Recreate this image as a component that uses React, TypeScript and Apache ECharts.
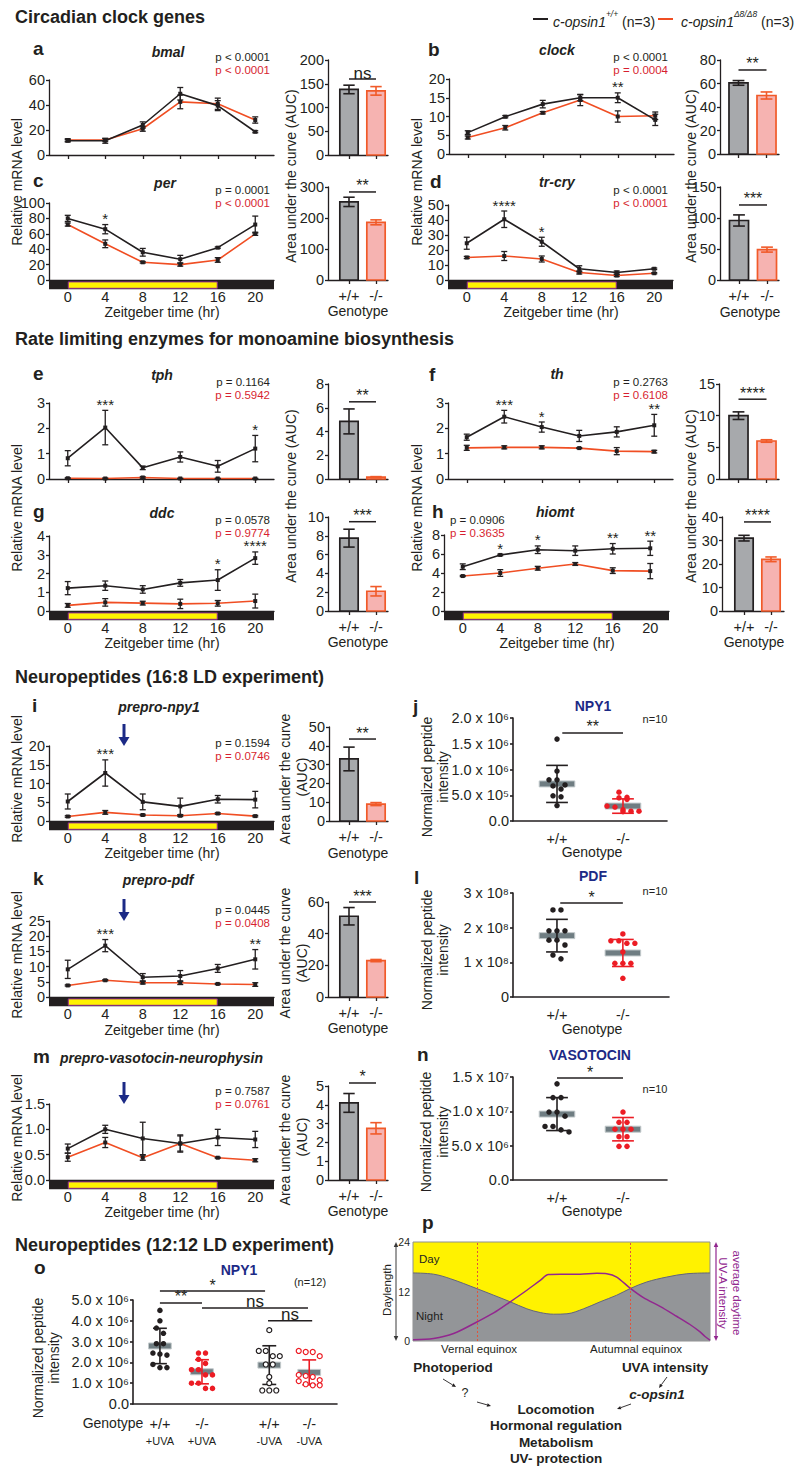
import React, { useEffect, useRef } from "react";
import * as echarts from "echarts";

const FONT = "'Liberation Sans', Arial, Helvetica, sans-serif";
const INK = "#231f20";
const ORANGE = "#f04e23";
const PRED = "#d71f30";
const NAVY = "#1c2a86";
const BAR_GRAY = "#a7a9ac";
const BAR_PINK = "#f6b3b1";
const EDGE_PINK = "#f15a29";
const DOT_RED = "#ec1c24";
const MEAN_GRAY = "#6f7d82";
const DAY_YELLOW = "#fff200";
const DAY_EDGE = "#92278f";

// ---------- shared categories ----------
const ZT = [0, 4, 8, 12, 16, 20];
const ZT_RANGE = [-2, 22];
const LIGHT_PHASE = [0, 16];
const GENOTYPES = ["+/+", "-/-"];

// ---------- a: bmal ----------
const bmalWT = [11.4, 11.4, 24, 49, 39.5, 18.6];
const bmalWTerr = [1, 2, 2.5, 5, 4, 0.8];
const bmalKO = [12, 12, 21, 42.5, 41, 28];
const bmalKOerr = [1, 1, 2, 5.5, 4.5, 2.5];
const bmalAUC = [138, 135];
const bmalAUCerr = [9, 9];

// ---------- b: clock ----------
const clockWT = [5.7, 9.95, 13.3, 15, 15, 9.1];
const clockWTerr = [0.5, 0.3, 1, 0.8, 1.3, 1.5];
const clockKO = [4.4, 7.0, 11.0, 14.4, 10.0, 10.2];
const clockKOerr = [0.4, 0.6, 0.3, 1.5, 1.5, 1.0];
const clockAUC = [60.5, 49.8];
const clockAUCerr = [2, 3];
const clockStars: [number, string][] = [[16, "**"]];

// ---------- c: per ----------
const perWT = [80, 66, 36, 27, 42, 72];
const perWTerr = [4, 6, 5, 5, 1, 11];
const perKO = [72, 47, 23, 20, 26, 60];
const perKOerr = [2, 5, 1, 2, 3, 2];
const perAUC = [252, 186];
const perAUCerr = [15, 8];
const perStars: [number, string][] = [[4, "*"]];

// ---------- d: tr-cry ----------
const cryWT = [24.5, 40.5, 25.5, 7.5, 5, 7.5];
const cryWTerr = [4, 5.5, 3, 2, 1, 0.5];
const cryKO = [15, 16, 14, 5, 3, 4.5];
const cryKOerr = [0.7, 3, 2, 1, 0.7, 0.4];
const cryAUC = [96, 49];
const cryAUCerr = [9, 4];
const cryStars: [number, string][] = [[4, "****"], [8, "*"]];

// ---------- e: tph ----------
const tphWT = [0.82, 2.03, 0.44, 0.87, 0.5, 1.2];
const tphWTerr = [0.3, 0.68, 0.07, 0.2, 0.23, 0.52];
const tphKO = [0.03, 0.02, 0.06, 0.02, 0.02, 0.02];
const tphKOerr = [0.02, 0.02, 0.03, 0.01, 0.01, 0.01];
const tphAUC = [4.85, 0.15];
const tphAUCerr = [1.05, 0.05];
const tphStars: [number, string][] = [[4, "***"], [20, "*"]];

// ---------- f: th ----------
const thWT = [1.65, 2.46, 2.05, 1.7, 1.86, 2.12];
const thWTerr = [0.12, 0.25, 0.2, 0.22, 0.2, 0.43];
const thKO = [1.23, 1.25, 1.25, 1.22, 1.1, 1.08];
const thKOerr = [0.1, 0.06, 0.06, 0.02, 0.14, 0.05];
const thAUC = [10, 6];
const thAUCerr = [0.6, 0.2];
const thStars: [number, string][] = [[4, "***"], [8, "*"], [20, "**"]];

// ---------- g: ddc ----------
const ddcWT = [1.22, 1.35, 1.15, 1.5, 1.65, 2.82];
const ddcWTerr = [0.35, 0.25, 0.2, 0.18, 0.55, 0.33];
const ddcKO = [0.3, 0.46, 0.42, 0.38, 0.41, 0.53];
const ddcKOerr = [0.1, 0.2, 0.1, 0.25, 0.15, 0.37];
const ddcAUC = [7.75, 2.1];
const ddcAUCerr = [0.95, 0.5];
const ddcStars: [number, string][] = [[16, "*"], [20, "****"]];

// ---------- h: hiomt ----------
const hiomtWT = [4.66, 5.9, 6.45, 6.35, 6.55, 6.6];
const hiomtWTerr = [0.3, 0.08, 0.4, 0.5, 0.55, 0.75];
const hiomtKO = [3.68, 4.0, 4.5, 4.95, 4.25, 4.2];
const hiomtKOerr = [0.06, 0.35, 0.2, 0.15, 0.3, 0.8];
const hiomtAUC = [31, 22];
const hiomtAUCerr = [1.2, 1];
const hiomtStars: [number, string][] = [[4, "*"], [8, "*"], [16, "**"], [20, "**"]];

// ---------- i: prepro-npy1 ----------
const npyWT = [5.2, 12.8, 5.1, 3.9, 5.8, 5.7];
const npyWTerr = [2, 3.5, 2.1, 2.2, 1, 2.2];
const npyKO = [1.2, 2.3, 1.6, 1.4, 2.0, 1.3];
const npyKOerr = [0.2, 0.5, 0.2, 0.2, 0.2, 0.2];
const npyAUC = [33, 9];
const npyAUCerr = [6.3, 0.8];
const npyStars: [number, string][] = [[4, "***"]];

// ---------- k: prepro-pdf ----------
const pdfWT = [9.1, 16.9, 6.5, 6.9, 9.4, 12.4];
const pdfWTerr = [3, 2, 1.2, 1.8, 1.3, 3.2];
const pdfKO = [3.8, 5.5, 4.7, 4.7, 4.3, 4.1];
const pdfKOerr = [0.2, 0.2, 0.4, 0.6, 0.2, 0.6];
const pdfAUC = [51, 23];
const pdfAUCerr = [5.5, 0.7];
const pdfStars: [number, string][] = [[4, "***"], [20, "**"]];

// ---------- m: prepro-vasotocin-neurophysin ----------
const avtWT = [0.62, 1.0, 0.82, 0.72, 0.84, 0.8];
const avtWTerr = [0.09, 0.08, 0.32, 0.17, 0.16, 0.16];
const avtKO = [0.45, 0.74, 0.44, 0.72, 0.44, 0.39];
const avtKOerr = [0.08, 0.1, 0.05, 0.15, 0.01, 0.03];
const avtAUC = [4.1, 2.75];
const avtAUCerr = [0.5, 0.3];
const ARROW_ZT = 6;

// ---------- j: NPY1 peptide (x10^6) ----------
const npyPepWT = [1.59, 0.97, 0.8, 0.8, 0.7, 0.68, 0.62, 0.49, 0.47, 0.3];
const npyPepKO = [0.56, 0.46, 0.45, 0.42, 0.29, 0.27, 0.22, 0.19, 0.18, 0.19];
const npyPepMean = [0.72, 0.29];
const npyPepSD = [0.36, 0.14];
const npyPepTicks = ["0.0", "5.0 x 10⁵", "1.0 x 10⁶", "1.5 x 10⁶", "2.0 x 10⁶"];

// ---------- l: PDF peptide (x10^8) ----------
const pdfPepWT = [2.51, 2.51, 1.91, 1.91, 1.91, 1.64, 1.64, 1.5, 1.21, 1.1];
const pdfPepKO = [1.82, 1.62, 1.62, 1.55, 1.55, 1.3, 0.97, 0.97, 0.97, 0.54];
const pdfPepMean = [1.77, 1.27];
const pdfPepSD = [0.47, 0.39];
const pdfPepTicks = ["0", "1 x 10⁸", "2 x 10⁸", "3 x 10⁸"];

// ---------- n: VASOTOCIN peptide (x10^7) ----------
const avtPepWT = [1.4, 1.2, 1.2, 0.99, 0.99, 0.93, 0.78, 0.78, 0.73, 0.7];
const avtPepKO = [0.99, 0.84, 0.84, 0.74, 0.74, 0.74, 0.63, 0.63, 0.49, 0.49];
const avtPepMean = [0.96, 0.74];
const avtPepSD = [0.24, 0.17];
const avtPepTicks = ["0.0", "5.0 x 10⁶", "1.0 x 10⁷", "1.5 x 10⁷"];

// ---------- o: NPY1 12:12 LD (x10^6) ----------
const oWTuva = [4.5, 4.0, 3.65, 3.4, 2.9, 2.9, 2.45, 2.4, 2.35, 1.9, 1.75, 1.75];
const oKOuva = [2.45, 2.45, 2.15, 1.95, 1.65, 1.65, 1.4, 1.4, 1.0, 1.0, 0.75, 0.75];
const oWTnouva = [3.55, 2.55, 2.55, 2.3, 2.3, 1.9, 1.9, 1.3, 1.0, 0.65, 0.65, 0.65];
const oKOnouva = [2.55, 2.5, 2.5, 2.3, 1.4, 1.35, 1.3, 1.15, 1.1, 0.95, 0.9, 0.9];
const oMean = [2.79, 1.55, 1.87, 1.52];
const oSD = [0.85, 0.58, 0.93, 0.6];
const oTicks = ["0.0", "1.0 x 10⁶", "2.0 x 10⁶", "3.0 x 10⁶", "4.0 x 10⁶", "5.0 x 10⁶"];
const oGenotype = ["+/+", "-/-", "+/+", "-/-"];
const oUVA = ["+UVA", "+UVA", "-UVA", "-UVA"];

// ---------- p: seasonal schematic ----------
const nightMonths = [0, 0.83, 1.51, 2.58, 3.26, 3.93, 4.6, 5.14, 5.68, 6.22, 6.89, 7.56, 8.23, 8.77, 9.44, 10.25, 11.06, 12];
const nightHours = [16.5, 16.2, 15.1, 12.7, 11.1, 9.5, 7.8, 6.9, 6.5, 6.6, 7.8, 9.5, 11.1, 12.7, 14.3, 15.5, 16.3, 16.5];
const uvaMonths = [0, 0.83, 1.64, 2.58, 3.26, 3.93, 4.6, 5.14, 5.47, 5.95, 6.75, 7.43, 7.83, 8.23, 8.77, 9.31, 9.98, 10.65, 11.19, 11.6, 11.8, 12];
const uvaLevel = [0.3, 0.6, 1.8, 4.6, 6.8, 9.5, 12.3, 14.7, 16.1, 16.2, 16.2, 16.4, 16.3, 15.5, 12.8, 10.5, 8.4, 6.0, 4.0, 2.2, 1.1, 0.2];
const equinoxMonths = [2.58, 8.77];

// =====================================================================

function swarmOffsets(vals: number[], pxPerY: number, pxPerX: number, diam: number, step: number) {
  const idx = vals.map((_, i) => i).sort((a, b) => vals[b] - vals[a]);
  const out = new Array(vals.length).fill(0);
  let i = 0;
  while (i < idx.length) {
    let j = i;
    while (j + 1 < idx.length && (vals[idx[i]] - vals[idx[j + 1]]) * pxPerY < diam) j++;
    const n = j - i + 1;
    for (let k = 0; k < n; k++) out[idx[i + k]] = ((k - (n - 1) / 2) * step) / pxPerX;
    i = j + 1;
  }
  return out;
}

function buildOption() {
  const grid: any[] = [];
  const xAxis: any[] = [];
  const yAxis: any[] = [];
  const series: any[] = [];
  const graphic: any[] = [];

  const axisLine = { show: true, onZero: false, lineStyle: { color: INK, width: 1.3 } };
  const tickStyle = { color: INK, width: 1.3 };

  const T = (text: string, x: number, y: number, o: any = {}) =>
    graphic.push({
      type: "text", x, y, rotation: o.rot || 0, silent: true, z: 50,
      style: {
        text, fontFamily: FONT, fontSize: o.fs || 14, fontWeight: o.fw || "normal",
        fontStyle: o.it ? "italic" : "normal", fill: o.c || INK, align: o.al || "center",
        verticalAlign: "middle", rich: o.rich,
      },
    });

  const arrow = (x1: number, y1: number, x2: number, y2: number, color: string, lw: number, head: number) => {
    const ang = Math.atan2(y2 - y1, x2 - x1);
    const hx = x2 - head * Math.cos(ang), hy = y2 - head * Math.sin(ang);
    const px = -Math.sin(ang) * head * 0.45, py = Math.cos(ang) * head * 0.45;
    graphic.push({ type: "line", silent: true, shape: { x1, y1, x2: hx, y2: hy }, style: { stroke: color, lineWidth: lw } });
    graphic.push({ type: "polygon", silent: true, shape: { points: [[x2, y2], [hx + px, hy + py], [hx - px, hy - py]] }, style: { fill: color } });
  };

  const addGrid = (left: number, top: number, width: number, height: number, x: any, y: any, extra: any = {}) => {
    const g = grid.length;
    grid.push({ left, top, width, height, containLabel: false, outerBoundsMode: "none", ...extra });
    xAxis.push({ gridIndex: g, splitLine: { show: false }, ...x });
    yAxis.push({ gridIndex: g, splitLine: { show: false }, ...y });
    return g;
  };

  const yLabel = (fmt: (v: number) => string) => ({ margin: 4, fontSize: 14.5, color: INK, fontFamily: FONT, formatter: fmt });

  // ---------------- line panels ----------------
  const linePanels: any[] = [
    { left: 49, top: 80, bottom: 155, ymax: 60, yint: 20, wt: bmalWT, wtE: bmalWTerr, ko: bmalKO, koE: bmalKOerr, stars: [], bar: false },
    { left: 449, top: 79, bottom: 154, ymax: 20, yint: 5, wt: clockWT, wtE: clockWTerr, ko: clockKO, koE: clockKOerr, stars: clockStars, bar: false },
    { left: 49, top: 203, bottom: 280, ymax: 100, yint: 20, wt: perWT, wtE: perWTerr, ko: perKO, koE: perKOerr, stars: perStars, bar: true },
    { left: 448, top: 205, bottom: 280, ymax: 50, yint: 10, wt: cryWT, wtE: cryWTerr, ko: cryKO, koE: cryKOerr, stars: cryStars, bar: true },
    { left: 49, top: 403, bottom: 479, ymax: 3, yint: 1, wt: tphWT, wtE: tphWTerr, ko: tphKO, koE: tphKOerr, stars: tphStars, bar: false },
    { left: 448, top: 403, bottom: 479, ymax: 3, yint: 1, wt: thWT, wtE: thWTerr, ko: thKO, koE: thKOerr, stars: thStars, bar: false },
    { left: 49, top: 536, bottom: 611, ymax: 4, yint: 1, wt: ddcWT, wtE: ddcWTerr, ko: ddcKO, koE: ddcKOerr, stars: ddcStars, bar: true },
    { left: 444, top: 535, bottom: 611, ymax: 8, yint: 2, wt: hiomtWT, wtE: hiomtWTerr, ko: hiomtKO, koE: hiomtKOerr, stars: hiomtStars, bar: true },
    { left: 49, top: 746, bottom: 821, ymax: 20, yint: 5, wt: npyWT, wtE: npyWTerr, ko: npyKO, koE: npyKOerr, stars: npyStars, bar: true, arrow: true },
    { left: 49, top: 921, bottom: 997, ymax: 25, yint: 5, wt: pdfWT, wtE: pdfWTerr, ko: pdfKO, koE: pdfKOerr, stars: pdfStars, bar: true, arrow: true },
    { left: 49, top: 1104, bottom: 1180, ymax: 1.5, yint: 0.5, dec: 1, wt: avtWT, wtE: avtWTerr, ko: avtKO, koE: avtKOerr, stars: [], bar: true, arrow: true },
  ];

  linePanels.forEach((c) => {
    const g = addGrid(c.left, c.top, 225, c.bottom - c.top,
      {
        type: "value", min: ZT_RANGE[0], max: ZT_RANGE[1], axisLine,
        axisTick: { show: !c.bar, customValues: ZT, length: 4, lineStyle: tickStyle },
        axisLabel: { show: c.bar, customValues: ZT, margin: 9, fontSize: 14.5, color: INK, fontFamily: FONT },
      },
      {
        type: "value", min: 0, max: c.ymax, interval: c.yint, axisLine,
        axisTick: { show: true, length: 3, lineStyle: tickStyle },
        axisLabel: yLabel((v: number) => (c.dec ? v.toFixed(c.dec) : String(v))),
      });
    const base = { xAxisIndex: g, yAxisIndex: g, silent: true, animation: false };
    if (c.bar) {
      // dark phase covers the whole axis
      series.push({
        ...base, type: "custom", clip: false, z: 1, data: [[ZT_RANGE[0], ZT_RANGE[1]]],
        renderItem: (_p: any, api: any) => {
          const a = api.coord([api.value(0), 0]);
          const b = api.coord([api.value(1), 0]);
          return { type: "rect", shape: { x: a[0], y: a[1] + 0.6, width: b[0] - a[0], height: 8.6 }, style: { fill: INK } };
        },
      });
      // light phase (yellow with purple rim)
      series.push({
        ...base, type: "custom", clip: false, z: 2, data: [[LIGHT_PHASE[0], LIGHT_PHASE[1]]],
        renderItem: (_p: any, api: any) => {
          const a = api.coord([api.value(0), 0]);
          const b = api.coord([api.value(1), 0]);
          return {
            type: "rect", z2: 10,
            shape: { x: a[0] + 0.5, y: a[1] + 1.9, width: b[0] - a[0] - 1, height: 6.4 },
            style: { fill: DAY_YELLOW, stroke: DAY_EDGE, lineWidth: 1 },
          };
        },
      });
    }
    const mkLine = (vals: number[], color: string, z: number) => ({
      ...base, type: "line", z, data: ZT.map((t, i) => [t, vals[i]]), symbol: "rect", symbolSize: 4,
      itemStyle: { color: INK }, lineStyle: { color, width: 1.6 },
    });
    series.push(mkLine(c.ko, ORANGE, 3));
    series.push(mkLine(c.wt, INK, 4));
    const errData = ZT.map((t, i) => [t, c.ko[i], c.koE[i]]).concat(ZT.map((t, i) => [t, c.wt[i], c.wtE[i]]));
    series.push({
      ...base, type: "custom", clip: false, z: 5, data: errData,
      renderItem: (_p: any, api: any) => {
        const x = api.value(0), m = api.value(1), e = api.value(2);
        const top = api.coord([x, m + e]);
        const bot = api.coord([x, Math.max(0, m - e)]);
        const st = { stroke: INK, lineWidth: 1.3 };
        return {
          type: "group", children: [
            { type: "line", shape: { x1: top[0], y1: top[1], x2: top[0], y2: bot[1] }, style: st },
            { type: "line", shape: { x1: top[0] - 3, y1: top[1], x2: top[0] + 3, y2: top[1] }, style: st },
            { type: "line", shape: { x1: top[0] - 3, y1: bot[1], x2: top[0] + 3, y2: bot[1] }, style: st },
          ],
        };
      },
    });
    if (c.stars.length) {
      const starData = c.stars.map((s: [number, string]) => {
        const i = ZT.indexOf(s[0]);
        return [s[0], c.wt[i] + c.wtE[i]];
      });
      series.push({
        ...base, type: "custom", clip: false, z: 6, data: starData,
        renderItem: (p: any, api: any) => {
          const pt = api.coord([api.value(0), api.value(1)]);
          return { type: "text", x: pt[0], y: pt[1] - 6, style: { text: c.stars[p.dataIndex][1], align: "center", verticalAlign: "middle", fontSize: 15, fontFamily: FONT, fill: INK } };
        },
      });
    }
    if (c.arrow) {
      series.push({
        ...base, type: "custom", clip: false, z: 6, data: [[ARROW_ZT, c.ymax]],
        renderItem: (_p: any, api: any) => {
          const pt = api.coord([api.value(0), api.value(1)]);
          return {
            type: "group", children: [
              { type: "line", shape: { x1: pt[0], y1: pt[1] - 22, x2: pt[0], y2: pt[1] - 8 }, style: { stroke: NAVY, lineWidth: 3 } },
              { type: "polygon", shape: { points: [[pt[0] - 5.5, pt[1] - 9], [pt[0] + 5.5, pt[1] - 9], [pt[0], pt[1]]] }, style: { fill: NAVY } },
            ],
          };
        },
      });
    }
  });

  // ---------------- AUC bar panels ----------------
  const L = { axisX: 328, c0: 349, pitch: 27, right: 388 };
  const aucPanels: any[] = [
    { ...L, top: 60, bottom: 155, ymax: 200, yint: 50, vals: bmalAUC, errs: bmalAUCerr, sig: "ns", sigY: 160, labels: false },
    { axisX: 720, c0: 738.5, pitch: 28, right: 779, top: 60, bottom: 154, ymax: 80, yint: 20, vals: clockAUC, errs: clockAUCerr, sig: "**", sigY: 71.5, labels: false },
    { ...L, top: 187, bottom: 280, ymax: 300, yint: 100, vals: perAUC, errs: perAUCerr, sig: "**", sigY: 284, labels: true },
    { axisX: 720, c0: 739, pitch: 28, right: 779, top: 187, bottom: 280, ymax: 150, yint: 50, vals: cryAUC, errs: cryAUCerr, sig: "***", sigY: 121, labels: true },
    { ...L, top: 384, bottom: 479, ymax: 8, yint: 2, vals: tphAUC, errs: tphAUCerr, sig: "**", sigY: 6.5, labels: false },
    { axisX: 719, c0: 738.5, pitch: 28, right: 779, top: 384, bottom: 479, ymax: 15, yint: 5, vals: thAUC, errs: thAUCerr, sig: "****", sigY: 12.6, labels: false },
    { ...L, top: 517, bottom: 611, ymax: 10, yint: 2, vals: ddcAUC, errs: ddcAUCerr, sig: "***", sigY: 9.5, labels: true },
    { axisX: 722, c0: 744, pitch: 27, right: 784, top: 517, bottom: 611, ymax: 40, yint: 10, vals: hiomtAUC, errs: hiomtAUCerr, sig: "****", sigY: 37.9, labels: true },
    { ...L, axisX: 329, top: 727, bottom: 821, ymax: 50, yint: 10, vals: npyAUC, errs: npyAUCerr, sig: "**", sigY: 43.6, labels: true },
    { ...L, top: 902, bottom: 997, ymax: 60, yint: 20, vals: pdfAUC, errs: pdfAUCerr, sig: "***", sigY: 60, labels: true },
    { ...L, top: 1086, bottom: 1180, ymax: 5, yint: 1, vals: avtAUC, errs: avtAUCerr, sig: "*", sigY: 5.16, labels: true },
  ];

  const sigText = (x: number, y: number, lbl: string) => ({
    type: "text", x, y: y - 6,
    style: { text: lbl, align: "center", verticalAlign: "middle", fontSize: lbl === "ns" ? 17 : 16, fontFamily: FONT, fill: INK },
  });

  aucPanels.forEach((c) => {
    const xmin = -(c.c0 - c.axisX) / c.pitch;
    const xmax = 1 + (c.right - c.c0 - c.pitch) / c.pitch;
    const g = addGrid(c.axisX, c.top, c.right - c.axisX, c.bottom - c.top,
      {
        type: "value", min: xmin, max: xmax, axisLine,
        axisTick: { show: true, customValues: [0, 1], length: 4, lineStyle: tickStyle },
        axisLabel: { show: c.labels, customValues: [0, 1], margin: 8, fontSize: 14.5, color: INK, fontFamily: FONT, formatter: (v: number) => GENOTYPES[Math.round(v)] },
      },
      {
        type: "value", min: 0, max: c.ymax, interval: c.yint, axisLine,
        axisTick: { show: true, length: 3, lineStyle: tickStyle },
        axisLabel: yLabel((v: number) => String(v)),
      });
    const base = { xAxisIndex: g, yAxisIndex: g, silent: true, animation: false, clip: false, type: "custom" };
    series.push({
      ...base, z: 3, data: c.vals.map((v: number, i: number) => [i, v, c.errs[i]]),
      renderItem: (p: any, api: any) => {
        const x = api.value(0), v = api.value(1), e = api.value(2);
        const top = api.coord([x, v]);
        const b0 = api.coord([x, 0]);
        const hw = api.size([1, 0])[0] * 0.34;
        const et = api.coord([x, v + e]);
        const eb = api.coord([x, Math.max(0, v - e)]);
        const wt = p.dataIndex === 0;
        const stroke = wt ? INK : EDGE_PINK;
        const cap = hw * 0.62;
        const st = { stroke, lineWidth: 1.6 };
        return {
          type: "group", children: [
            { type: "rect", shape: { x: top[0] - hw, y: top[1], width: 2 * hw, height: Math.max(1, b0[1] - top[1]) }, style: { fill: wt ? BAR_GRAY : BAR_PINK, stroke, lineWidth: 1.7 } },
            { type: "line", shape: { x1: top[0], y1: et[1], x2: top[0], y2: eb[1] }, style: st },
            { type: "line", shape: { x1: top[0] - cap, y1: et[1], x2: top[0] + cap, y2: et[1] }, style: st },
            { type: "line", shape: { x1: top[0] - cap, y1: eb[1], x2: top[0] + cap, y2: eb[1] }, style: st },
          ],
        };
      },
    });
    series.push({
      ...base, z: 4, data: [[0, 1, c.sigY]],
      renderItem: (_p: any, api: any) => {
        const a = api.coord([api.value(0), api.value(2)]);
        const b = api.coord([api.value(1), api.value(2)]);
        return {
          type: "group", children: [
            { type: "line", shape: { x1: a[0], y1: a[1], x2: b[0], y2: b[1] }, style: { stroke: INK, lineWidth: 1.5 } },
            sigText((a[0] + b[0]) / 2, a[1], c.sig),
          ],
        };
      },
    });
  });

  // ---------------- dot plots ----------------
  const dotPanels: any[] = [
    {
      left: 513, right: 667, top: 718, bottom: 821, xmin: -0.667, xmax: 1.667, ymax: 2, yint: 0.5, ticks: npyPepTicks, cats: GENOTYPES,
      groups: [
        { pos: 0, vals: npyPepWT, mean: npyPepMean[0], sd: npyPepSD[0], color: INK, open: false },
        { pos: 1, vals: npyPepKO, mean: npyPepMean[1], sd: npyPepSD[1], color: DOT_RED, open: false },
      ],
      brackets: [[0.08, 1, 1.71, "**"]], step: 8,
    },
    {
      left: 513, right: 669, top: 893, bottom: 997, xmin: -0.667, xmax: 1.7, ymax: 3, yint: 1, ticks: pdfPepTicks, cats: GENOTYPES,
      groups: [
        { pos: 0, vals: pdfPepWT, mean: pdfPepMean[0], sd: pdfPepSD[0], color: INK, open: false },
        { pos: 1, vals: pdfPepKO, mean: pdfPepMean[1], sd: pdfPepSD[1], color: DOT_RED, open: false },
      ],
      brackets: [[0.05, 1, 2.71, "*"]], step: 8,
    },
    {
      left: 513, right: 667, top: 1077, bottom: 1180, xmin: -0.667, xmax: 1.667, ymax: 1.5, yint: 0.5, ticks: avtPepTicks, cats: GENOTYPES,
      groups: [
        { pos: 0, vals: avtPepWT, mean: avtPepMean[0], sd: avtPepSD[0], color: INK, open: false },
        { pos: 1, vals: avtPepKO, mean: avtPepMean[1], sd: avtPepSD[1], color: DOT_RED, open: false },
      ],
      brackets: [[0, 1, 1.485, "*"]], step: 8,
    },
    {
      left: 133, right: 337, top: 1300, bottom: 1404, xmin: -0.64, xmax: 4.21, ymax: 5, yint: 1, ticks: oTicks, cats: oGenotype, sub: oUVA,
      groups: [
        { pos: 0, vals: oWTuva, mean: oMean[0], sd: oSD[0], color: INK, open: false },
        { pos: 1, vals: oKOuva, mean: oMean[1], sd: oSD[1], color: DOT_RED, open: false },
        { pos: 2.6, vals: oWTnouva, mean: oMean[2], sd: oSD[2], color: INK, open: true },
        { pos: 3.55, vals: oKOnouva, mean: oMean[3], sd: oSD[3], color: DOT_RED, open: true },
      ],
      brackets: [[0, 2.5, 5.43, "*"], [0, 1, 4.86, "**"], [1, 3.52, 4.62, "ns"], [2.57, 3.62, 4.0, "ns"]], step: 7,
    },
  ];

  dotPanels.forEach((c) => {
    const positions = c.groups.map((gr: any) => gr.pos);
    const catIndex = (v: number) => {
      let best = 0;
      positions.forEach((p: number, i: number) => { if (Math.abs(p - v) < Math.abs(positions[best] - v)) best = i; });
      return best;
    };
    const g = addGrid(c.left, c.top, c.right - c.left, c.bottom - c.top,
      {
        type: "value", min: c.xmin, max: c.xmax, axisLine: { ...axisLine, lineStyle: { color: INK, width: 1.6 } },
        axisTick: { show: false },
        axisLabel: {
          show: true, customValues: positions, margin: 10, fontSize: 14.5, color: INK, fontFamily: FONT,
          formatter: (v: number) => (c.sub ? `{a|${c.cats[catIndex(v)]}}\n{b|${c.sub[catIndex(v)]}}` : c.cats[catIndex(v)]),
          rich: { a: { fontSize: 14.5, fontFamily: FONT, color: INK, lineHeight: 19 }, b: { fontSize: 11, fontFamily: FONT, color: INK, lineHeight: 15 } },
        },
      },
      {
        type: "value", min: 0, max: c.ymax, interval: c.yint, axisLine: { ...axisLine, lineStyle: { color: INK, width: 1.6 } },
        axisTick: { show: true, length: 3, lineStyle: { color: INK, width: 1.6 } },
        axisLabel: yLabel((v: number) => c.ticks[Math.round(v / c.yint)]),
      });
    const base = { xAxisIndex: g, yAxisIndex: g, silent: true, animation: false };
    const pxY = (c.bottom - c.top) / c.ymax;
    const pxX = (c.right - c.left) / (c.xmax - c.xmin);
    series.push({
      ...base, type: "custom", clip: false, z: 2,
      data: c.groups.map((gr: any) => [gr.pos, gr.mean]),
      renderItem: (_p: any, api: any) => {
        const mid = api.coord([api.value(0), api.value(1)]);
        const hw = api.size([0.27, 0])[0];
        return {
          type: "rect", shape: { x: mid[0] - hw, y: mid[1] - 3, width: 2 * hw, height: 6 },
          style: { fill: MEAN_GRAY, stroke: "#c3cacc", lineWidth: 1 },
        };
      },
    });
    c.groups.forEach((gr: any) => {
      const offs = swarmOffsets(gr.vals, pxY, pxX, 5.5, c.step);
      series.push({
        ...base, type: "scatter", z: 4, symbol: "circle", symbolSize: gr.open ? 5 : 5.5,
        data: gr.vals.map((v: number, i: number) => [gr.pos + offs[i], v]),
        itemStyle: gr.open ? { color: "#ffffff", borderColor: gr.color, borderWidth: 1.2, opacity: 1 } : { color: gr.color, opacity: 1 },
      });
    });
    series.push({
      ...base, type: "custom", clip: false, z: 3,
      data: c.groups.map((gr: any) => [gr.pos, gr.mean, gr.sd]),
      renderItem: (p: any, api: any) => {
        const gr = c.groups[p.dataIndex];
        const x = api.value(0), m = api.value(1), s = api.value(2);
        const t = api.coord([x, m + s]);
        const b = api.coord([x, Math.max(0, m - s)]);
        const cap = api.size([0.165, 0])[0];
        const st = { stroke: gr.color, lineWidth: 1.6 };
        return {
          type: "group", children: [
            { type: "line", shape: { x1: t[0], y1: t[1], x2: t[0], y2: b[1] }, style: st },
            { type: "line", shape: { x1: t[0] - cap, y1: t[1], x2: t[0] + cap, y2: t[1] }, style: st },
            { type: "line", shape: { x1: t[0] - cap, y1: b[1], x2: t[0] + cap, y2: b[1] }, style: st },
          ],
        };
      },
    });
    series.push({
      ...base, type: "custom", clip: false, z: 5, data: c.brackets.map((b: any) => [b[0], b[1], b[2]]),
      renderItem: (p: any, api: any) => {
        const a = api.coord([api.value(0), api.value(2)]);
        const b = api.coord([api.value(1), api.value(2)]);
        return {
          type: "group", children: [
            { type: "line", shape: { x1: a[0], y1: a[1], x2: b[0], y2: b[1] }, style: { stroke: INK, lineWidth: 1.5 } },
            sigText((a[0] + b[0]) / 2, a[1], c.brackets[p.dataIndex][3]),
          ],
        };
      },
    });
  });

  // ---------------- p: seasonal schematic ----------------
  const gp = addGrid(413, 1242, 297, 99,
    { type: "value", min: 0, max: 12, axisLine: { show: false }, axisTick: { show: false }, axisLabel: { show: false } },
    { type: "value", min: 0, max: 24, interval: 12, axisLine: { show: false }, axisTick: { show: false }, axisLabel: { margin: 3, fontSize: 10.5, color: INK, fontFamily: FONT } },
    { show: true, backgroundColor: DAY_YELLOW, borderColor: "#8f8f8f", borderWidth: 1 });
  series.push({
    type: "line", xAxisIndex: gp, yAxisIndex: gp, silent: true, z: 2, smooth: 0.35, symbol: "none",
    data: nightMonths.map((m, i) => [m, nightHours[i]]),
    lineStyle: { color: "#63657a", width: 1 }, areaStyle: { color: "#939598", opacity: 1 },
  });
  series.push({
    type: "line", xAxisIndex: gp, yAxisIndex: gp, silent: true, z: 4, smooth: 0.3, symbol: "none",
    data: uvaMonths.map((m, i) => [m, uvaLevel[i]]),
    lineStyle: { color: "#92278f", width: 1.5 },
    markLine: {
      silent: true, symbol: "none", label: { show: false }, animation: false,
      lineStyle: { color: "#e0533d", type: [2, 2], width: 1 },
      data: equinoxMonths.map((m) => ({ xAxis: m })),
    },
  });

  // ---------------- texts ----------------
  const H = { fs: 18, fw: "bold", al: "left" };
  T("Circadian clock genes", 15, 17, H);
  T("Rate limiting enzymes for monoamine biosynthesis", 15, 339, H);
  T("Neuropeptides (16:8 LD experiment)", 15, 677, H);
  T("Neuropeptides (12:12 LD experiment)", 15, 1245, H);

  // legend
  graphic.push({ type: "line", silent: true, shape: { x1: 533, y1: 19, x2: 548, y2: 19 }, style: { stroke: INK, lineWidth: 2 } });
  graphic.push({ type: "line", silent: true, shape: { x1: 658, y1: 19, x2: 673, y2: 19 }, style: { stroke: ORANGE, lineWidth: 2 } });
  const legRich = {
    i: { fontStyle: "italic", fontSize: 14, fontFamily: FONT, fill: INK, lineHeight: 20, verticalAlign: "bottom" },
    s: { fontStyle: "italic", fontSize: 8.5, fontFamily: FONT, fill: INK, lineHeight: 10, verticalAlign: "top" },
    n: { fontSize: 14, fontFamily: FONT, fill: INK, lineHeight: 20, verticalAlign: "bottom" },
  };
  T("{i|c-opsin1}{s|+/+}{n| (n=3)}", 553, 19, { al: "left", rich: legRich });
  T("{i|c-opsin1}{s|Δ8/Δ8}{n| (n=3)}", 681, 19, { al: "left", rich: legRich });

  // panel letters
  const PL = { fs: 19, fw: "bold", al: "left" };
  ([["a", 33, 48], ["b", 428, 49], ["c", 33, 180], ["d", 430, 181], ["e", 33, 373], ["f", 429, 374], ["g", 33, 511], ["h", 432, 511],
    ["i", 32, 705], ["j", 413, 706], ["k", 33, 878], ["l", 414, 877], ["m", 33, 1056], ["n", 417, 1054], ["o", 34, 1267], ["p", 422, 1222]] as [string, number, number][])
    .forEach(([t, x, y]) => T(t, x, y, PL));

  // gene names
  const GN = { fs: 14, fw: "bold", it: true };
  T("bmal", 168, 52, GN); T("clock", 557, 50, GN); T("per", 165, 183, GN); T("tr-cry", 557, 182, GN);
  T("tph", 162, 375, GN); T("th", 557, 374, GN); T("ddc", 162, 513, GN); T("hiomt", 555, 512, GN);
  T("prepro-npy1", 159, 707, GN); T("prepro-pdf", 158, 880, GN);
  T("prepro-vasotocin-neurophysin", 60, 1058, { ...GN, al: "left" });

  // p-values
  const pv = (a: string, b: string, x: number, y: number, al = "right") => {
    T(a, x, y, { fs: 11.5, al });
    T(b, x, y + 13, { fs: 11.5, al, c: PRED });
  };
  pv("p < 0.0001", "p < 0.0001", 270, 57);
  pv("p < 0.0001", "p = 0.0004", 668, 57);
  pv("p = 0.0001", "p < 0.0001", 270, 190);
  pv("p < 0.0001", "p < 0.0001", 668, 190);
  pv("p = 0.1164", "p = 0.5942", 270, 382);
  pv("p = 0.2763", "p = 0.6108", 668, 382);
  pv("p = 0.0578", "p = 0.9774", 270, 520);
  pv("p = 0.0906", "p = 0.3635", 450, 520, "left");
  pv("p = 0.1594", "p = 0.0746", 270, 743);
  pv("p = 0.0445", "p = 0.0408", 270, 910);
  pv("p = 0.7587", "p = 0.0761", 270, 1091);

  // axis titles
  ([[162, 312], [561, 312], [162, 643], [557, 643], [162, 853], [162, 1030], [162, 1212]] as [number, number][])
    .forEach(([x, y]) => T("Zeitgeber time (hr)", x, y));
  ([[358, 311], [750, 312], [358, 642], [754, 642], [358, 853], [358, 1028], [358, 1211], [592, 852], [592, 1029], [592, 1211], [113, 1423]] as [number, number][])
    .forEach(([x, y]) => T("Genotype", x, y));
  const R = Math.PI / 2;
  ([[17, 182], [417, 182], [17, 508], [417, 508], [17, 779], [17, 955], [17, 1138]] as [number, number][])
    .forEach(([x, y]) => T("Relative mRNA level", x, y, { rot: R }));
  ([[291, 176], [691, 176], [291, 496], [691, 496]] as [number, number][])
    .forEach(([x, y]) => T("Area under the curve (AUC)", x, y, { rot: R }));
  ([[779, 777], [953, 963], [1140, 1137]] as [number, number][]).forEach(([y1, y2]) => {
    T("Area under the curve", 285, y1, { rot: R });
    T("(AUC)", 302, y2, { rot: R });
  });
  ([[427, 443, 777], [427, 443, 950], [426, 443, 1132], [38, 54, 1358]] as [number, number, number][]).forEach(([x1, x2, y]) => {
    T("Normalized peptide", x1, y, { rot: R });
    T("intensity", x2, y, { rot: R });
  });

  // peptide titles
  const PT = { fs: 14, fw: "bold", c: NAVY };
  T("NPY1", 593, 706, PT); T("PDF", 593, 876, PT); T("VASOTOCIN", 590, 1055, PT); T("NPY1", 239, 1270, PT);
  T("n=10", 655, 719, { fs: 11 }); T("n=10", 655, 891, { fs: 11 }); T("n=10", 655, 1089, { fs: 11 });
  T("(n=12)", 310, 1282, { fs: 11 });

  // panel p texts
  T("Day", 419, 1259, { fs: 11.5, al: "left" });
  T("Night", 416, 1316, { fs: 11.5, al: "left" });
  T("Vernal equinox", 479, 1349, { fs: 11.5 });
  T("Autumnal equinox", 636, 1349, { fs: 11.5 });
  T("Daylength", 387, 1290, { fs: 11.5, rot: R });
  arrow(396, 1291, 396, 1242, "#3a3a3a", 1, 5);
  arrow(396, 1291, 396, 1341, "#3a3a3a", 1, 5);
  arrow(716, 1291, 716, 1242, "#92278f", 1.2, 5);
  arrow(716, 1291, 716, 1341, "#92278f", 1.2, 5);
  T("UV-A intensity", 723, 1293, { fs: 11.5, rot: -R, c: "#92278f" });
  T("average daytime", 737, 1293, { fs: 11.5, rot: -R, c: "#92278f" });
  const BT = { fs: 13.5, fw: "bold" };
  T("Photoperiod", 453, 1367, BT);
  T("UVA intensity", 665, 1367, BT);
  T("?", 465, 1393, { fs: 12.5 });
  T("c-opsin1", 657, 1394, { ...BT, it: true });
  T("Locomotion", 556, 1409, BT);
  T("Hormonal regulation", 556, 1425, BT);
  T("Metabolism", 556, 1442, BT);
  T("UV- protection", 556, 1458, BT);
  arrow(443, 1379, 456, 1387, INK, 0.9, 4);
  arrow(477, 1402, 491, 1406, INK, 0.9, 4);
  arrow(667, 1377, 659, 1388, INK, 0.9, 4);
  arrow(631, 1404, 617, 1409, INK, 0.9, 4);

  return {
    animation: false,
    backgroundColor: "#ffffff",
    textStyle: { fontFamily: FONT },
    grid, xAxis, yAxis, series, graphic,
  };
}

export default function App() {
  const ref = useRef<HTMLDivElement>(null);
  useEffect(() => {
    if (!ref.current) return;
    const chart = echarts.init(ref.current, undefined, { renderer: "svg", width: 800, height: 1476 });
    chart.setOption(buildOption() as any);
    return () => chart.dispose();
  }, []);
  return <div ref={ref} style={{ position: "absolute", left: 0, top: 0, width: 800, height: 1476, background: "#fff" }} />;
}
